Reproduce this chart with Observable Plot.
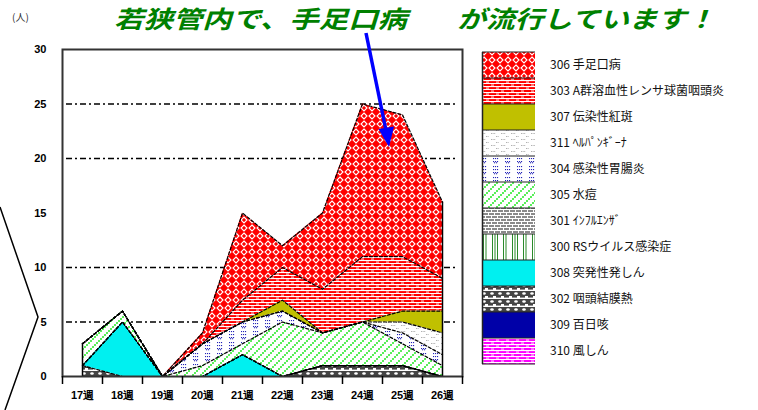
<!DOCTYPE html>
<html><head><meta charset="utf-8">
<script src="https://cdn.jsdelivr.net/npm/d3@7"></script>
<script src="https://cdn.jsdelivr.net/npm/@observablehq/plot@0.6"></script>
<style>
html,body{margin:0;padding:0;background:#fff;}
#wrap{position:relative;width:758px;height:410px;overflow:hidden;background:#fff;}
#wrap > svg{position:absolute;left:0;top:0;}
</style></head><body>
<svg width="0" height="0" style="position:absolute;left:0;top:0">
<defs>
<pattern id="pHFMD" width="8" height="8" patternUnits="userSpaceOnUse">
<rect width="8" height="8" fill="#ff0000"/>
<path d="M4 1 L7 4 L4 7 L1 4 Z" fill="none" stroke="#fff" stroke-width="1.1"/>
</pattern>
<pattern id="pGAS" width="10" height="6" patternUnits="userSpaceOnUse">
<rect width="10" height="6" fill="#ff0000"/>
<rect x="0" y="2" width="10" height="1.1" fill="#fff"/>
<rect x="0" y="5" width="10" height="1.1" fill="#fff"/>
<rect x="1" y="0.6" width="3" height="0.9" fill="#fff"/>
<rect x="6" y="3.6" width="3" height="0.9" fill="#fff"/>
</pattern>
<pattern id="pHerp" width="10" height="6" patternUnits="userSpaceOnUse">
<rect width="10" height="6" fill="#fff"/>
<rect x="1" y="1" width="1" height="1" fill="#b0b0b0"/>
<rect x="2.6" y="1" width="1" height="1" fill="#b0b0b0"/>
<rect x="4.2" y="1" width="1" height="1" fill="#b0b0b0"/>
<rect x="6" y="4" width="1" height="1" fill="#b0b0b0"/>
<rect x="7.6" y="4" width="1" height="1" fill="#b0b0b0"/>
</pattern>
<pattern id="pGastro" width="12" height="11" patternUnits="userSpaceOnUse">
<rect width="12" height="11" fill="#fff"/>
<g fill="#2424b8">
<rect x="1" y="1" width="1.1" height="1.1"/><rect x="3" y="1" width="1.1" height="1.1"/><rect x="5" y="1" width="1.1" height="1.1"/>
<rect x="1" y="4" width="1.1" height="1.1"/><rect x="3" y="4" width="1.1" height="1.1"/><rect x="5" y="4" width="1.1" height="1.1"/>
<rect x="1" y="7" width="1.1" height="1.1"/><rect x="2" y="8.2" width="1.1" height="1.1"/><rect x="3" y="7" width="1.1" height="1.1"/><rect x="4" y="8.2" width="1.1" height="1.1"/><rect x="5" y="7" width="1.1" height="1.1"/>
</g>
</pattern>
<pattern id="pVar" width="8" height="8" patternUnits="userSpaceOnUse">
<rect width="8" height="8" fill="#fff"/>
<g fill="#00e600">
<rect x="0.2" y="6.2" width="1.6" height="1.6"/><rect x="2.2" y="4.2" width="1.6" height="1.6"/><rect x="4.2" y="2.2" width="1.6" height="1.6"/><rect x="6.2" y="0.2" width="1.6" height="1.6"/>
</g>
</pattern>
<pattern id="pFlu" width="12" height="6" patternUnits="userSpaceOnUse">
<rect width="12" height="6" fill="#fff"/>
<g fill="#8a8a8a">
<rect x="0" y="0" width="5" height="2"/><rect x="6" y="0" width="5" height="2"/>
<rect x="3" y="3" width="5" height="2"/><rect x="9" y="3" width="3" height="2"/><rect x="0" y="3" width="2" height="2"/>
</g>
</pattern>
<pattern id="pRS" width="20" height="10" patternUnits="userSpaceOnUse">
<rect width="20" height="10" fill="#fff"/>
<g fill="#2a8a2a">
<rect x="3" y="0" width="1" height="10"/><rect x="5.5" y="0" width="1" height="10"/>
<rect x="12" y="0" width="1" height="10"/><rect x="14.5" y="0" width="1" height="10"/><rect x="17" y="0" width="1" height="10"/>
</g>
</pattern>
<pattern id="pAdeno" width="8" height="8" patternUnits="userSpaceOnUse">
<rect width="8" height="8" fill="#fff"/>
<rect x="0" y="0" width="5" height="1.6" fill="#444"/>
<rect x="0" y="3" width="8" height="5" fill="#444"/>
<ellipse cx="4" cy="5.5" rx="1.8" ry="1.3" fill="#fff"/>
</pattern>
<pattern id="pRub" width="10" height="6" patternUnits="userSpaceOnUse">
<rect width="10" height="6" fill="#ff00ff"/>
<rect x="0" y="2" width="10" height="1.1" fill="#fff"/>
<rect x="0" y="5" width="10" height="1.1" fill="#fff"/>
<rect x="1" y="0.6" width="3" height="0.9" fill="#fff"/>
<rect x="6" y="3.6" width="3" height="0.9" fill="#fff"/>
</pattern>
</defs>
</svg>
<div id="wrap"></div>
<script>
// ---- data ----
const weeks = [17, 18, 19, 20, 21, 22, 23, 24, 25, 26];
const weekLabels = ["17週", "18週", "19週", "20週", "21週", "22週", "23週", "24週", "25週", "26週"];
const yTicks = [0, 5, 10, 15, 20, 25, 30];
const gridValues = [5, 10, 20, 25];

// legend order (top to bottom)
const seriesCodes = ["306", "303", "307", "311", "304", "305", "301", "300", "308", "302", "309", "310"];
const seriesNames = ["手足口病", "A群溶血性レンサ球菌咽頭炎", "伝染性紅斑", "ﾍﾙﾊﾟﾝｷﾞｰﾅ", "感染性胃腸炎", "水痘",
  "ｲﾝﾌﾙｴﾝｻﾞ", "RSウイルス感染症", "突発性発しん", "咽頭結膜熱", "百日咳", "風しん"];
const seriesFills = ["url(#pHFMD)", "url(#pGAS)", "#c0c000", "url(#pHerp)", "url(#pGastro)", "url(#pVar)",
  "url(#pFlu)", "url(#pRS)", "#00f0f0", "url(#pAdeno)", "#0000a8", "url(#pRub)"];

const hfmd       = [0, 0, 0, 1, 8, 2, 7, 14, 13, 7];
const strepA     = [0, 0, 0, 0, 2, 3, 4, 6, 5, 3];
const erythema   = [0, 0, 0, 0, 0, 1, 0, 0, 1, 2];
const herpangina = [0, 0, 0, 0, 0, 0, 0, 0, 1, 2];
const gastro     = [0, 0, 0, 2, 2, 1, 0, 0, 1, 1];
const varicella  = [2, 1, 0, 1, 1, 5, 3, 4, 2, 1];
const influenza  = [0, 0, 0, 0, 0, 0, 0, 0, 0, 0];
const rsv        = [0, 0, 0, 0, 0, 0, 0, 0, 0, 0];
const exanthem   = [0, 5, 0, 0, 2, 0, 0, 0, 0, 0];
const pharyngo   = [1, 0, 0, 0, 0, 0, 1, 1, 1, 0];
const pertussis  = [0, 0, 0, 0, 0, 0, 0, 0, 0, 0];
const rubella    = [0, 0, 0, 0, 0, 0, 0, 0, 0, 0];

const seriesValues = [hfmd, strepA, erythema, herpangina, gastro, varicella,
  influenza, rsv, exanthem, pharyngo, pertussis, rubella];

// ---- build table ----
const fills = {};
seriesNames.forEach((n, i) => fills[n] = seriesFills[i]);
const stackOrder = seriesNames.slice().reverse(); // bottom to top
const rows = [];
stackOrder.forEach(name => {
  const vals = seriesValues[seriesNames.indexOf(name)];
  weeks.forEach((w, j) => rows.push({series: name, week: w, value: vals[j]}));
});
const totals = weeks.map((w, j) => seriesValues.reduce((s, v) => s + v[j], 0));
const edges = [{week: weeks[0], total: totals[0]}, {week: weeks[weeks.length - 1], total: totals[totals.length - 1]}];
const boundaries = weeks.map(w => w - 0.5).concat([weeks[weeks.length - 1] + 0.5]);

const chart = Plot.plot({
  width: 758, height: 410,
  marginLeft: 62, marginRight: 296, marginTop: 49, marginBottom: 34,
  style: {fontFamily: "'Liberation Sans', Arial, sans-serif", fontSize: "11px", fontWeight: "bold", background: "transparent", color: "#000"},
  x: {type: "linear", domain: [weeks[0] - 0.5, weeks[weeks.length - 1] + 0.5], label: null},
  y: {domain: [0, 30], label: null},
  color: {type: "identity"},
  marks: [
    Plot.ruleY(gridValues, {stroke: "#000", strokeWidth: 1.3, strokeDasharray: "6,3,2,3", insetLeft: 4, insetRight: 4}),
    Plot.areaY(rows, Plot.stackY({x: "week", y: "value", z: "series", order: stackOrder, fill: d => fills[d.series]})),
    Plot.lineY(rows, Plot.stackY2({x: "week", y: "value", z: "series", order: stackOrder, stroke: "#000", strokeWidth: 1.2, strokeDasharray: "3,2"})),
    Plot.ruleX(edges, {x: "week", y1: 0, y2: "total", stroke: "#000", strokeWidth: 1.5}),
    Plot.frame({stroke: "#333", strokeWidth: 2}),
    Plot.axisY(yTicks, {tickSize: 0, tickPadding: 16, label: null}),
    Plot.axisX(boundaries, {tickSize: 8, tickFormat: () => "", strokeWidth: 1.5, label: null}),
    Plot.axisX(weeks, {tickSize: 0, tickPadding: 15, tickFormat: d => weekLabels[weeks.indexOf(d)], label: null})
  ]
});
document.getElementById("wrap").appendChild(chart);

// ---- overlay: title, unit, arrow, legend, callout ----
const ov = d3.select("#wrap").append("svg").attr("width", 758).attr("height", 410);
const jp = "'Noto Sans CJK JP', sans-serif";
ov.append("text").attr("x", 114).attr("y", 28).attr("fill", "#008000")
  .attr("font-family", jp).attr("font-size", 24).attr("font-weight", "bold").attr("font-style", "italic")
  .attr("textLength", 293).attr("lengthAdjust", "spacingAndGlyphs")
  .text("若狭管内で、手足口病");
ov.append("text").attr("x", 457).attr("y", 28).attr("fill", "#008000")
  .attr("font-family", jp).attr("font-size", 24).attr("font-weight", "bold").attr("font-style", "italic")
  .attr("textLength", 258).attr("lengthAdjust", "spacingAndGlyphs")
  .text("が流行しています！");
ov.append("text").attr("x", 12).attr("y", 21).attr("fill", "#333")
  .attr("font-family", jp).attr("font-size", 10).text("(人)");

// arrow
ov.append("line").attr("x1", 366).attr("y1", 33).attr("x2", 385.5).attr("y2", 128)
  .attr("stroke", "#0000ff").attr("stroke-width", 3.5);
ov.append("polygon").attr("points", "389,147 378.5,129 394,126.5").attr("fill", "#0000ff");

// callout lines on left
ov.append("polyline").attr("points", "0,207 38,317 5,410").attr("fill", "none")
  .attr("stroke", "#000").attr("stroke-width", 1.5);

// legend
const lx = 482, ly = 52, lw = 53, lh = 26;
const lg = ov.append("g");
seriesNames.forEach((name, i) => {
  lg.append("rect").attr("x", lx).attr("y", ly + i * lh).attr("width", lw).attr("height", lh)
    .attr("fill", seriesFills[i]);
  lg.append("line").attr("x1", lx).attr("x2", lx + lw).attr("y1", ly + i * lh).attr("y2", ly + i * lh)
    .attr("stroke", "#222").attr("stroke-width", 1.2);
  lg.append("text").attr("x", 550).attr("y", ly + i * lh + lh / 2).attr("dy", "0.35em")
    .attr("font-family", jp).attr("font-size", 12).attr("fill", "#111")
    .text(seriesCodes[i] + " " + name);
});
lg.append("line").attr("x1", lx).attr("x2", lx + lw).attr("y1", ly + seriesNames.length * lh).attr("y2", ly + seriesNames.length * lh)
  .attr("stroke", "#222").attr("stroke-width", 1.2);
lg.append("line").attr("x1", lx + 0.5).attr("x2", lx + 0.5).attr("y1", ly).attr("y2", ly + seriesNames.length * lh)
  .attr("stroke", "#222").attr("stroke-width", 1.5);
</script>
</body></html>
